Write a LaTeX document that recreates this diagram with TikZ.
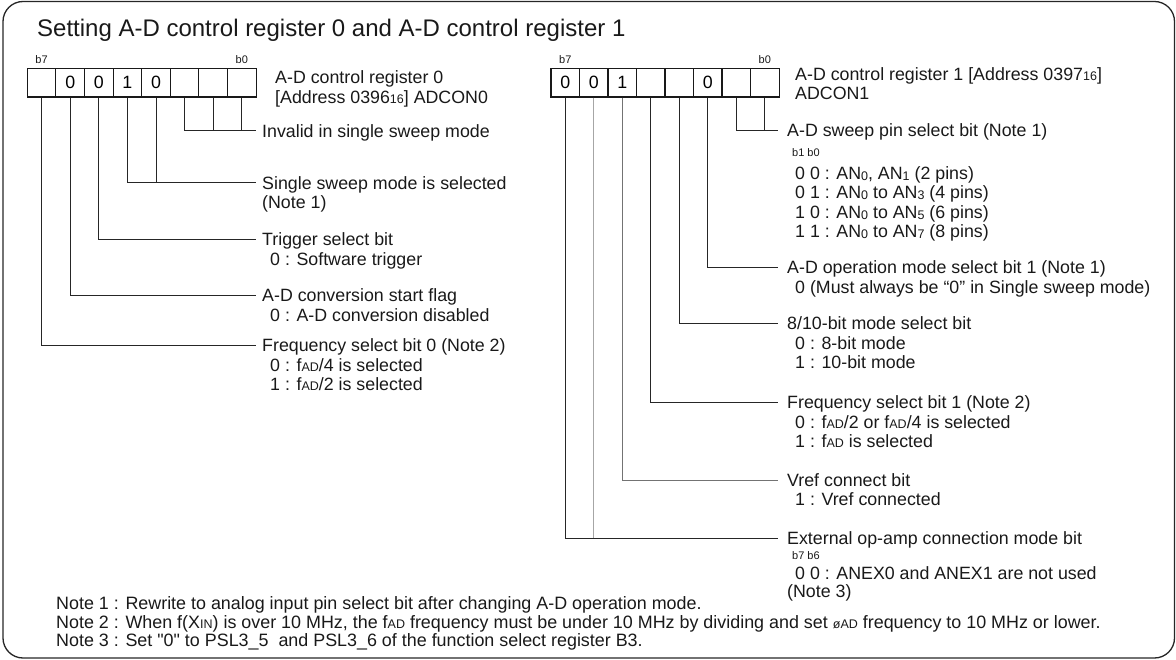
\documentclass[tikz,border=0pt]{standalone}
\usepackage{fontspec}
\setmainfont{Liberation Sans}
\newfontfamily\nomapfont{Liberation Sans}
\usetikzlibrary{calc}
\newcommand{\sm}[1]{{\fontsize{12.5}{12.5}\selectfont #1}}
\newcommand{\smlo}[1]{\raisebox{-1pt}{\fontsize{12.5}{12.5}\selectfont #1}}
\newcommand{\bsm}[1]{{\fontsize{11}{11}\selectfont #1}}
\newcommand{\ind}{\hspace*{8pt}}
\newcommand{\sq}{{\nomapfont\symbol{34}}}
\newcommand{\tb}[1]{\begin{tabular}[t]{@{}l@{}}#1\end{tabular}}
\begin{document}
\begin{tikzpicture}[x=1pt,y=-1pt,
  cell/.style={draw=black!90, line width=1.1pt, minimum width=28.6pt, minimum height=28.5pt, inner sep=0pt, font=\fontsize{17.8}{19}\selectfont},
  lbl/.style={anchor=base west, inner sep=0pt, text=black!90, font=\fontsize{17.8}{19.3}\selectfont},
  notelbl/.style={anchor=base west, inner sep=0pt, text=black!90, font=\fontsize{17.9}{18.5}\selectfont},
  bitlbl/.style={inner sep=0pt, text=black!90, font=\fontsize{11}{12}\selectfont},
  conn/.style={line width=1pt, draw=black!85},
  connmid/.style={line width=1pt, draw=black!55},
  connlight/.style={line width=1pt, draw=black!35},
  frame/.style={draw=black!85, line width=1.3pt, rounded corners=20pt}
]
\useasboundingbox (0,0) rectangle (1176,660);
\draw[frame] (3,1.5) rectangle (1174.5,658);

\node[anchor=base west, inner sep=0pt, text=black!90, font=\fontsize{24}{28}\selectfont] (title) at (37,36.5) {Setting A-D control register 0 and A-D control register 1};

% left register
\foreach \i/\v in {7/,6/0,5/0,4/1,3/0,2/,1/,0/}
  \node[cell] (L\i) at ({27.3+28.6*(7-\i)+14.3}, 82.75) {\v};
\node[bitlbl] (Lb7) at (41.6,60) {b7};
\node[bitlbl] (Lb0) at (241.8,60) {b0};
\node[lbl] (Lname) at (275,84) {\tb{A-D control register 0\\ {[}Address 0396\sm{16}{]} ADCON0}};

% right register
\foreach \i/\v in {7/0,6/0,5/1,4/,3/,2/0,1/,0/}
  \node[cell] (R\i) at ({551+28.5*(7-\i)+14.25}, 82.75) {\v};
\node[bitlbl] (Rb7) at (565.25,60) {b7};
\node[bitlbl] (Rb0) at (764.75,60) {b0};
\node[lbl] (Rname) at (795,80.5) {\tb{A-D control register 1 [Address 0397\sm{16}]\\ ADCON1}};

% left labels
\node[lbl] (n1) at (262,137.5) {Invalid in single sweep mode};
\node[lbl] (n2) at (262,189.5) {\tb{Single sweep mode is selected\\ (Note 1)}};
\node[lbl] (n3) at (262,246) {\tb{Trigger select bit\\ \ind 0 : Software trigger}};
\node[lbl] (n4) at (262,302) {\tb{A-D conversion start flag\\ \ind 0 : A-D conversion disabled}};
\node[lbl] (n5) at (262,352) {\tb{Frequency select bit 0 (Note 2)\\ \ind 0 : f\sm{AD}/4 is selected\\ \ind 1 : f\sm{AD}/2 is selected}};

% right labels
\node[lbl] (m1) at (787,137) {\tb{A-D sweep pin select bit (Note 1)\\ \hspace*{5pt}\bsm{b1 b0}\\[4pt]
  \ind 0 0 : AN\smlo{0}, AN\smlo{1} (2 pins)\\
  \ind 0 1 : AN\smlo{0} to AN\smlo{3} (4 pins)\\
  \ind 1 0 : AN\smlo{0} to AN\smlo{5} (6 pins)\\
  \ind 1 1 : AN\smlo{0} to AN\smlo{7} (8 pins)}};
\node[lbl] (m2) at (787,274) {\tb{A-D operation mode select bit 1 (Note 1)\\ \ind 0 (Must always be “0” in Single sweep mode)}};
\node[lbl] (m3) at (787,330) {\tb{8/10-bit mode select bit\\ \ind 0 : 8-bit mode\\ \ind 1 : 10-bit mode}};
\node[lbl] (m4) at (787,409) {\tb{Frequency select bit 1 (Note 2)\\ \ind 0 : f\sm{AD}/2 or f\sm{AD}/4 is selected\\ \ind 1 : f\sm{AD} is selected}};
\node[lbl] (m5) at (787,486.5) {\tb{Vref connect bit\\ \ind 1 : Vref connected}};
\node[lbl] (m6) at (787,544.5) {\tb{External op-amp connection mode bit\\[-4pt] \hspace*{5pt}\bsm{b7 b6}\\ \ind 0 0 : ANEX0 and ANEX1 are not used\\[-1pt] (Note 3)}};

% notes
\node[notelbl] (notes) at (56,609.5) {\tb{Note 1 : Rewrite to analog input pin select bit after changing A-D operation mode.\\
Note 2 : When f(X\sm{IN}) is over 10 MHz, the f\sm{AD} frequency must be under 10 MHz by dividing and set \sm{øAD} frequency to 10 MHz or lower.\\
Note 3 : Set \sq 0\sq{} to PSL3\_5\ \ and PSL3\_6 of the function select register B3.}};

% junction points
\coordinate (jL1) at ([xshift=-6pt,yshift=6.5pt]n1.base west);
\coordinate (jL2) at ([xshift=-6pt,yshift=6.5pt]n2.base west);
\coordinate (jL3) at ([xshift=-6pt,yshift=6.5pt]n3.base west);
\coordinate (jL4) at ([xshift=-6pt,yshift=6.5pt]n4.base west);
\coordinate (jL5) at ([xshift=-6pt,yshift=6.5pt]n5.base west);
\coordinate (jR1) at ([xshift=-9pt,yshift=6.5pt]m1.base west);
\coordinate (jR2) at ([xshift=-9pt,yshift=6.5pt]m2.base west);
\coordinate (jR3) at ([xshift=-9pt,yshift=6.5pt]m3.base west);
\coordinate (jR4) at ([xshift=-9pt,yshift=6.5pt]m4.base west);
\coordinate (jR5) at ([xshift=-9pt,yshift=6.5pt]m5.base west);
\coordinate (jR6) at ([xshift=-9pt,yshift=6.5pt]m6.base west);

% left connectors
\draw[conn] (L2.south) |- (jL1);
\draw[conn] (L1.south) -- (L1.south |- jL1);
\draw[conn] (L0.south) -- (L0.south |- jL1);
\draw[conn] (L4.south) |- (jL2);
\draw[conn] (L3.south) -- (L3.south |- jL2);
\draw[conn] (L5.south) |- (jL3);
\draw[conn] (L6.south) |- (jL4);
\draw[conn] (L7.south) |- (jL5);

% right connectors
\draw[conn] (R1.south) |- (jR1);
\draw[conn] (R0.south) -- (R0.south |- jR1);
\draw[conn] (R2.south) |- (jR2);
\draw[conn] (R3.south) |- (jR3);
\draw[conn] (R4.south) |- (jR4);
\draw[connmid] (R5.south) |- (jR5);
\draw[conn] (R7.south) |- (jR6);
\draw[connlight] (R6.south) -- (R6.south |- jR6);
\end{tikzpicture}
\end{document}
